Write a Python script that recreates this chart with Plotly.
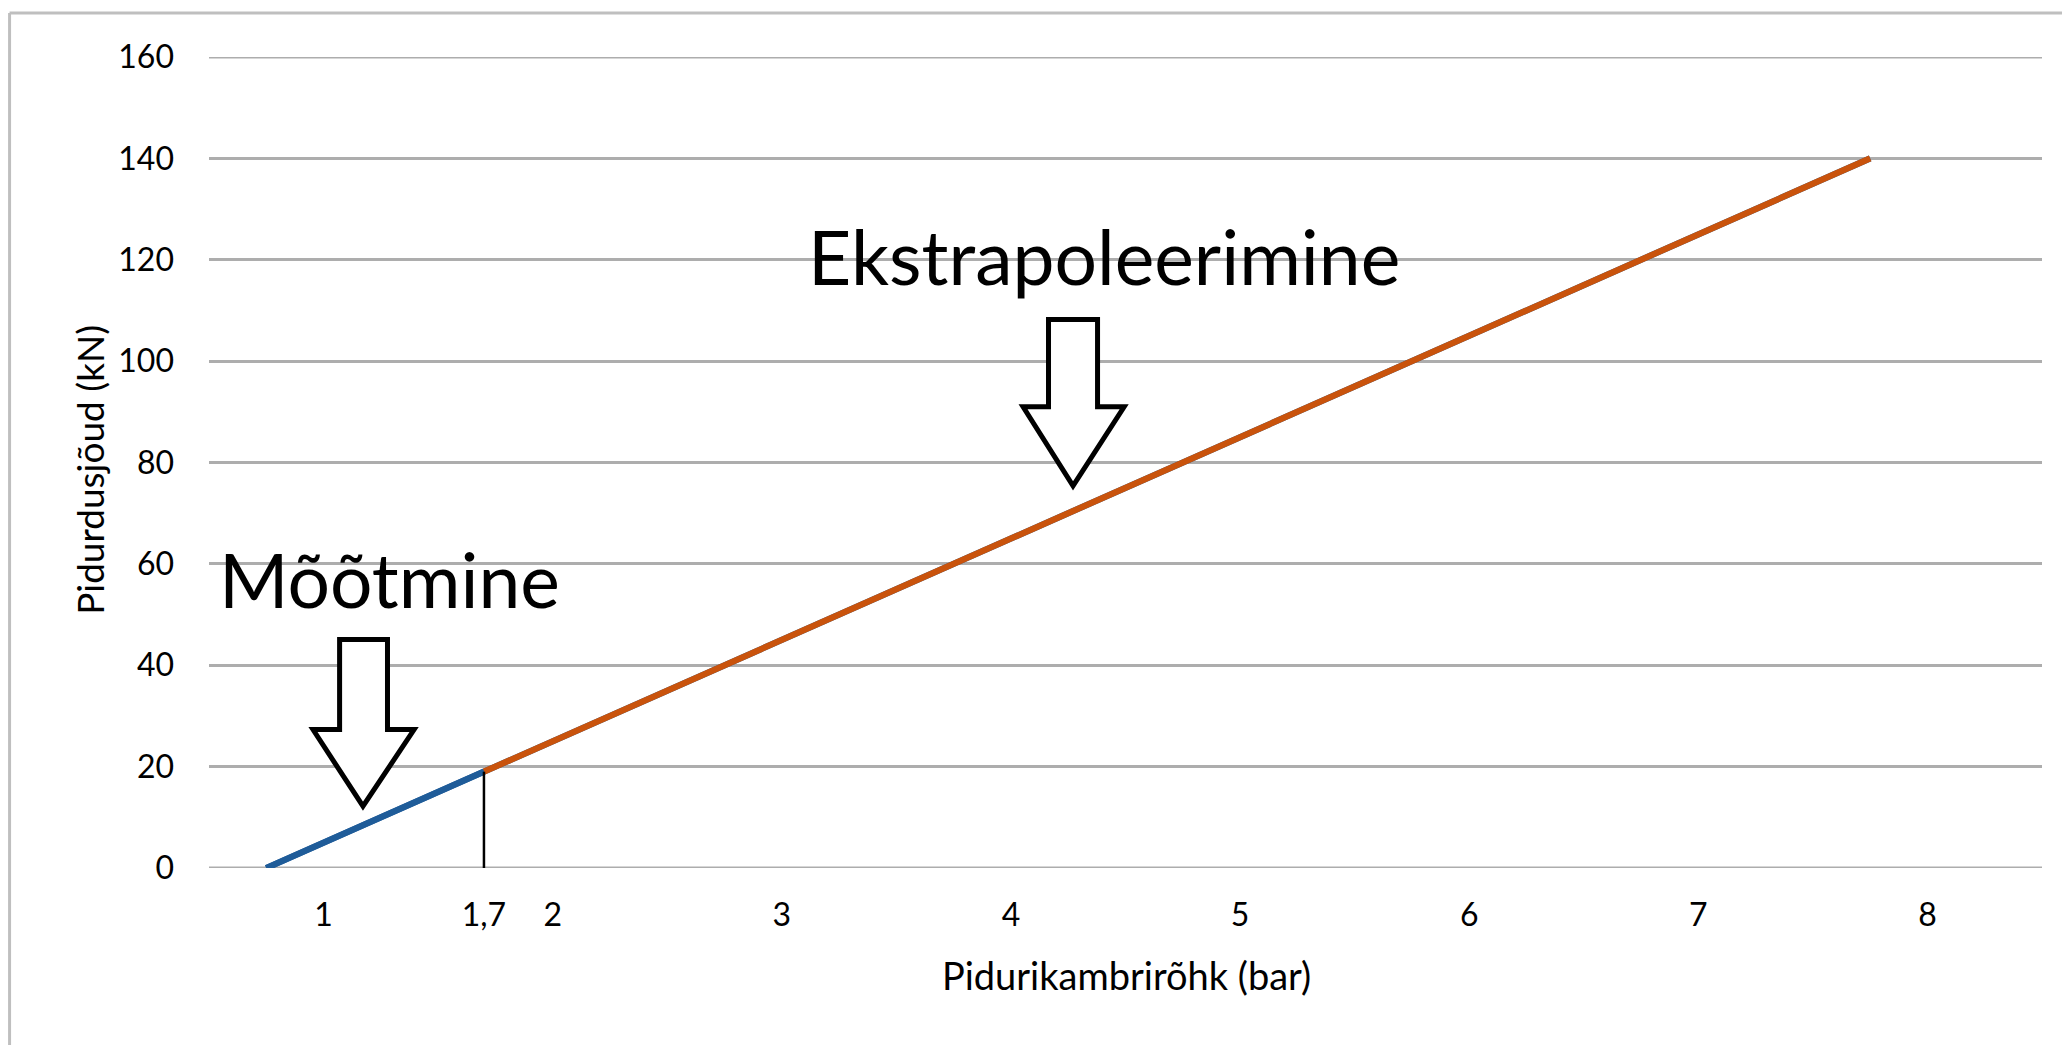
import plotly.graph_objects as go

# ---- data ----
pressure_measured = [0.75, 1.7]          # bar
force_measured = [0, 19]                 # kN
pressure_extrap = [1.7, 7.75]            # bar
force_extrap = [19, 140]                 # kN
x_tick_vals = [1, 1.7, 2, 3, 4, 5, 6, 7, 8]
x_tick_text = ["1", "1,7", "2", "3", "4", "5", "6", "7", "8"]
y_tick_vals = [0, 20, 40, 60, 80, 100, 120, 140, 160]
marker_pressure = 1.7
marker_force = 19

# page body has an 8px margin, so the figure is 8px smaller than the window
W, H = 2062, 1037
L, R, T, B = 201, 28, 49, 177
FONT = "Lato, 'Liberation Sans', sans-serif"
BLUE = "#1F5C99"
ORANGE = "#C9530C"
GRID = "#ADADAD"
LW = 6.2

fig = go.Figure()
fig.add_trace(go.Scatter(x=pressure_measured + [pressure_extrap[-1]],
                         y=force_measured + [force_extrap[-1]],
                         mode="lines", line=dict(color=BLUE, width=LW),
                         showlegend=False, hoverinfo="skip"))
fig.add_trace(go.Scatter(x=pressure_extrap, y=force_extrap, mode="lines",
                         line=dict(color=ORANGE, width=LW),
                         showlegend=False, hoverinfo="skip"))
fig.add_trace(go.Scatter(x=pressure_measured, y=force_measured, mode="lines",
                         line=dict(color=BLUE, width=LW),
                         showlegend=False, hoverinfo="skip"))
# vertical marker line at 1,7 bar
fig.add_trace(go.Scatter(x=[marker_pressure, marker_pressure], y=[marker_force, -1.6],
                         mode="lines", line=dict(color="black", width=2.5),
                         showlegend=False, hoverinfo="skip", cliponaxis=False))


def arrow_path(x0, x1, ytop, yshoulder, hx0, hx1, xtip, ytip):
    return (f"M {x0},{ytop} L {x1},{ytop} L {x1},{yshoulder} L {hx1},{yshoulder} "
            f"L {xtip},{ytip} L {hx0},{yshoulder} L {x0},{yshoulder} Z")


shapes = [
    # gridlines at the axis range ends (plotly omits them)
    dict(type="line", xref="paper", yref="y", x0=0, x1=1, y0=y_tick_vals[0], y1=y_tick_vals[0],
         line=dict(color=GRID, width=3), layer="below"),
    dict(type="line", xref="paper", yref="y", x0=0, x1=1, y0=y_tick_vals[-1], y1=y_tick_vals[-1],
         line=dict(color=GRID, width=3), layer="below"),
    dict(type="path", xref="x", yref="y",
         path=arrow_path(1.070, 1.279, 45.1, 27.3, 0.954, 1.395, 1.172, 12.2),
         line=dict(color="black", width=5), fillcolor="white", layer="above"),
    dict(type="path", xref="x", yref="y",
         path=arrow_path(4.164, 4.378, 108.2, 91.0, 4.053, 4.494, 4.271, 75.4),
         line=dict(color="black", width=5), fillcolor="white", layer="above"),
    # chart-area border (top and left)
    dict(type="line", xref="paper", yref="paper", x0=-0.1088, x1=1.02, y0=1.0543, y1=1.0543,
         line=dict(color="#BFBFBF", width=3)),
    dict(type="line", xref="paper", yref="paper", x0=-0.1088, x1=-0.1088, y0=1.0543, y1=-0.22,
         line=dict(color="#BFBFBF", width=3)),
]

annotations = [
    dict(text="Ekstrapoleerimine", x=4.407, y=120.8, xref="x", yref="y",
         showarrow=False, font=dict(family=FONT, size=75, color="black"),
         xanchor="center", yanchor="middle"),
    dict(text="Mõõtmine", x=1.286, y=57.0, xref="x", yref="y",
         showarrow=False, font=dict(family=FONT, size=75, color="black"),
         xanchor="center", yanchor="middle"),
    dict(text="Pidurikambrirõhk (bar)", x=0.5008, y=-0.132, xref="paper", yref="paper",
         showarrow=False, font=dict(family=FONT, size=38, color="black"),
         xanchor="center", yanchor="middle"),
    dict(text="Pidurdusjõud (kN)", x=-0.0649, y=0.491, xref="paper", yref="paper",
         showarrow=False, textangle=-90, font=dict(family=FONT, size=37, color="black"),
         xanchor="center", yanchor="middle"),
]

fig.update_layout(
    width=W, height=H,
    margin=dict(l=L, r=R, t=T, b=B),
    paper_bgcolor="white", plot_bgcolor="white",
    shapes=shapes, annotations=annotations,
    xaxis=dict(range=[0.5, 8.5], tickvals=x_tick_vals, ticktext=x_tick_text,
               showgrid=False, zeroline=False, showline=False, ticks="",
               tickfont=dict(family=FONT, size=32, color="black"),
               ticklabelstandoff=25, fixedrange=True),
    yaxis=dict(range=[0, 160], tickvals=y_tick_vals, showgrid=True,
               gridcolor=GRID, gridwidth=3, zeroline=False, showline=False, ticks="",
               tickfont=dict(family=FONT, size=32, color="black"),
               ticklabelstandoff=34, fixedrange=True),
)

fig.write_html("out.html", config={"displayModeBar": False})
